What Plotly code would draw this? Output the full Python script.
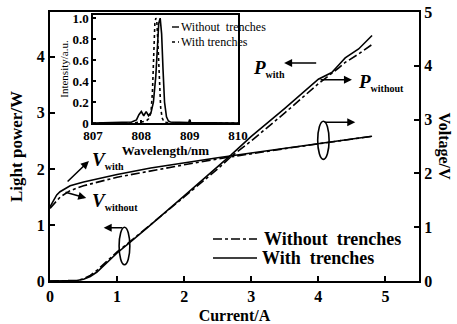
import plotly.graph_objects as go

# ---------------- data ----------------
cur_p = [0, 0.2, 0.4, 0.5, 0.6, 0.7, 0.8, 0.9, 1.0, 1.2, 1.5, 2.0, 2.5, 2.7, 3.0, 3.5, 4.0, 4.2, 4.3, 4.4, 4.6, 4.8]
p_with = [0, 0, 0.01, 0.03, 0.08, 0.16, 0.27, 0.39, 0.5, 0.7, 1.0, 1.52, 2.04, 2.25, 2.58, 3.08, 3.6, 3.72, 3.85, 3.98, 4.14, 4.38]
p_without = [0, 0, 0.01, 0.04, 0.1, 0.19, 0.3, 0.41, 0.52, 0.71, 1.0, 1.5, 2.0, 2.22, 2.5, 3.0, 3.52, 3.7, 3.8, 3.9, 4.05, 4.22]

cur_v = [0, 0.05, 0.1, 0.15, 0.3, 0.5, 1.0, 1.5, 2.0, 2.5, 3.0, 3.5, 4.0, 4.5, 4.8]
v_with = [1.38, 1.5, 1.6, 1.66, 1.77, 1.84, 1.98, 2.1, 2.2, 2.29, 2.38, 2.47, 2.56, 2.64, 2.69]
v_without = [1.35, 1.42, 1.5, 1.56, 1.68, 1.77, 1.93, 2.05, 2.16, 2.27, 2.37, 2.46, 2.55, 2.64, 2.69]

wl_without = [807.0, 807.5, 807.8, 807.9, 807.95, 808.0, 808.05, 808.1, 808.15, 808.2, 808.25, 808.3,
              808.33, 808.36, 808.39, 808.42, 808.45, 808.48, 808.52, 808.56, 808.6, 808.8, 808.98,
              809.0, 809.02, 809.5, 810.0]
int_without = [0.0, 0.005, 0.01, 0.03, 0.08, 0.11, 0.07, 0.11, 0.07, 0.1, 0.2, 0.45,
               0.75, 0.95, 1.0, 0.85, 0.5, 0.2, 0.06, 0.02, 0.01, 0.005, 0.005,
               0.035, 0.005, 0.003, 0.0]
wl_with = [807.0, 807.8, 808.0, 808.1, 808.15, 808.2, 808.23, 808.26, 808.28, 808.3, 808.32,
           808.34, 808.37, 808.4, 808.43, 808.47, 808.6, 810.0]
int_with = [0, 0.0, 0.01, 0.02, 0.04, 0.1, 0.3, 0.7, 0.95, 1.0, 0.97, 0.8, 0.45, 0.15, 0.05, 0.01, 0.0, 0]

x_ticks = [0, 1, 2, 3, 4, 5]
yl_ticks = [0, 1, 2, 3, 4]
yr_ticks = [0, 1, 2, 3, 4, 5]
wl_ticks = [807, 808, 809, 810]
in_ticks = [0, 0.2, 0.4, 0.6, 0.8, 1.0]
in_ticktext = ["0", "0.2", "0.4", "0.6", "0.8", "1.0"]

legend_labels = ["Without  trenches", "With  trenches"]

SERIF = "Liberation Serif"
BLACK = "black"
NB = "\u00a0"

fig = go.Figure()

# Power curves (left axis)
fig.add_trace(go.Scatter(x=cur_p, y=p_without, mode="lines", name=legend_labels[0], showlegend=False,
                         line=dict(color=BLACK, width=1.6, dash="dashdot"), xaxis="x", yaxis="y"))
fig.add_trace(go.Scatter(x=cur_p, y=p_with, mode="lines", name=legend_labels[1], showlegend=False,
                         line=dict(color=BLACK, width=1.6), xaxis="x", yaxis="y"))
# Voltage curves (right axis)
fig.add_trace(go.Scatter(x=cur_v, y=v_without, mode="lines", showlegend=False,
                         line=dict(color=BLACK, width=1.6, dash="dashdot"), xaxis="x", yaxis="y2"))
fig.add_trace(go.Scatter(x=cur_v, y=v_with, mode="lines", showlegend=False,
                         line=dict(color=BLACK, width=1.6), xaxis="x", yaxis="y2"))
# Inset spectra
fig.add_trace(go.Scatter(x=wl_without, y=int_without, mode="lines", showlegend=False,
                         line=dict(color=BLACK, width=1.6), xaxis="x3", yaxis="y3"))
fig.add_trace(go.Scatter(x=wl_with, y=int_with, mode="lines", showlegend=False,
                         line=dict(color=BLACK, width=1.6, dash="dot"), xaxis="x3", yaxis="y3"))

axis_common = dict(showline=True, linecolor=BLACK, linewidth=2, ticks="inside", tickcolor=BLACK,
                   ticklen=5, tickwidth=1.5, showgrid=False, zeroline=False, automargin=False)
tf_main = dict(size=16, family=SERIF, weight="bold", color=BLACK)
tf_in = dict(size=13, family=SERIF, weight="bold", color=BLACK)

fig.update_layout(
    width=457, height=324,
    margin=dict(l=50, r=38, t=12, b=43),
    paper_bgcolor="white", plot_bgcolor="white",
    font=dict(family=SERIF, color=BLACK),
    showlegend=False,
    xaxis=dict(range=[0, 5.5], tickvals=x_ticks, mirror=True, tickfont=tf_main,
               title=dict(text="<b>Current/A</b>", font=dict(size=16, family=SERIF), standoff=9),
               **axis_common),
    yaxis=dict(range=[0, 4.8], tickvals=yl_ticks, tickfont=tf_main,
               title=dict(text="<b>Light power/W</b>", font=dict(size=17, family=SERIF), standoff=10),
               **axis_common),
    yaxis2=dict(range=[0, 5], tickvals=yr_ticks, overlaying="y", side="right", anchor="x",
                tickfont=tf_main, **axis_common),
    xaxis3=dict(domain=[0.1165, 0.5095], anchor="y3", range=[807, 810], tickvals=wl_ticks,
                mirror=True, tickfont=tf_in,
                title=dict(text="<b>Wavelength/nm</b>", font=dict(size=13, family=SERIF), standoff=0),
                **{**axis_common, "linewidth": 1.5, "ticklen": 3}),
    yaxis3=dict(domain=[0.587, 0.989], anchor="x3", range=[0, 1.03], tickvals=in_ticks,
                ticktext=in_ticktext, mirror=True, tickfont=tf_in,
                title=dict(text="Intensity/a.u.", font=dict(size=11, family=SERIF), standoff=2),
                **{**axis_common, "linewidth": 1.5, "ticklen": 3}),
)

# Right axis title (reads top-to-bottom)
fig.add_annotation(text="<b>Voltage/V</b>", xref="paper", yref="paper", x=1.1, y=0.5,
                   textangle=90, showarrow=False, font=dict(size=16, family=SERIF))

def px_x(p):
    return (p - 50) / 369

def px_y(p):
    return (281 - p) / 269

# Main legend (drawn)
for ypix, dash, lab, tx in [(239, "dashdot", legend_labels[0], 262), (258, "solid", legend_labels[1], 260)]:
    fig.add_shape(type="line", xref="paper", yref="paper", x0=px_x(213), x1=px_x(257),
                  y0=px_y(ypix), y1=px_y(ypix), line=dict(color=BLACK, width=1.6, dash=dash))
    fig.add_annotation(text="<b>" + lab.replace("  ", NB + NB) + "</b>", xref="paper", yref="paper",
                       x=px_x(tx), y=px_y(ypix), xanchor="left", yanchor="middle", showarrow=False,
                       font=dict(size=18, family=SERIF))

# Inset legend (drawn)
for ypix, dash, lab in [(27, "solid", f"Without{NB}{NB}trenches"), (42, "dot", "With trenches")]:
    fig.add_shape(type="line", xref="paper", yref="paper", x0=px_x(172), x1=px_x(179),
                  y0=px_y(ypix), y1=px_y(ypix), line=dict(color=BLACK, width=1.4, dash=dash))
    fig.add_annotation(text=lab, xref="paper", yref="paper", x=px_x(179), y=px_y(ypix),
                       xanchor="left", yanchor="middle", showarrow=False,
                       font=dict(size=12, family=SERIF))

# Ellipses
fig.add_shape(type="circle", xref="x", yref="y", x0=1.03, x1=1.19, y0=0.29, y1=0.96,
              line=dict(color=BLACK, width=1.6))
fig.add_shape(type="circle", xref="x", yref="y2", x0=3.99, x1=4.16, y0=2.26, y1=2.97,
              line=dict(color=BLACK, width=1.6))

arrow_style = dict(showarrow=True, arrowhead=2, arrowsize=1, arrowwidth=1.6, arrowcolor=BLACK, text="")

# Ellipse arrows
fig.add_annotation(x=0.8, y=0.95, ax=1.1, ay=0.95, xref="x", yref="y", axref="x", ayref="y", **arrow_style)
fig.add_annotation(x=4.55, y=2.95, ax=4.07, ay=2.95, xref="x", yref="y2", axref="x", ayref="y2", **arrow_style)

# Curve label arrows
fig.add_annotation(x=0.58, y=2.14, ax=0.24, ay=1.75, xref="x", yref="y", axref="x", ayref="y", **arrow_style)
fig.add_annotation(x=0.54, y=1.48, ax=0.21, ay=1.59, xref="x", yref="y", axref="x", ayref="y", **arrow_style)
fig.add_annotation(x=3.49, y=3.89, ax=3.99, ay=3.89, xref="x", yref="y", axref="x", ayref="y", **arrow_style)
fig.add_annotation(x=4.5, y=3.59, ax=4.01, ay=3.59, xref="x", yref="y", axref="x", ayref="y", **arrow_style)

# Curve labels
def label(x, y, sym, sub):
    fig.add_annotation(text=f"<b><i>{sym}</i></b><sub><b><span style='font-size:10px'>{sub}</span></b></sub>",
                       x=x, y=y, xref="x", yref="y",
                       xanchor="left", yanchor="middle", showarrow=False,
                       font=dict(size=19, family=SERIF))

label(0.6, 2.15, "V", "with")
label(0.6, 1.42, "V", "without")
label(3.0, 3.8, "P", "with")
label(4.56, 3.55, "P", "without")

fig.write_html("out.html")
